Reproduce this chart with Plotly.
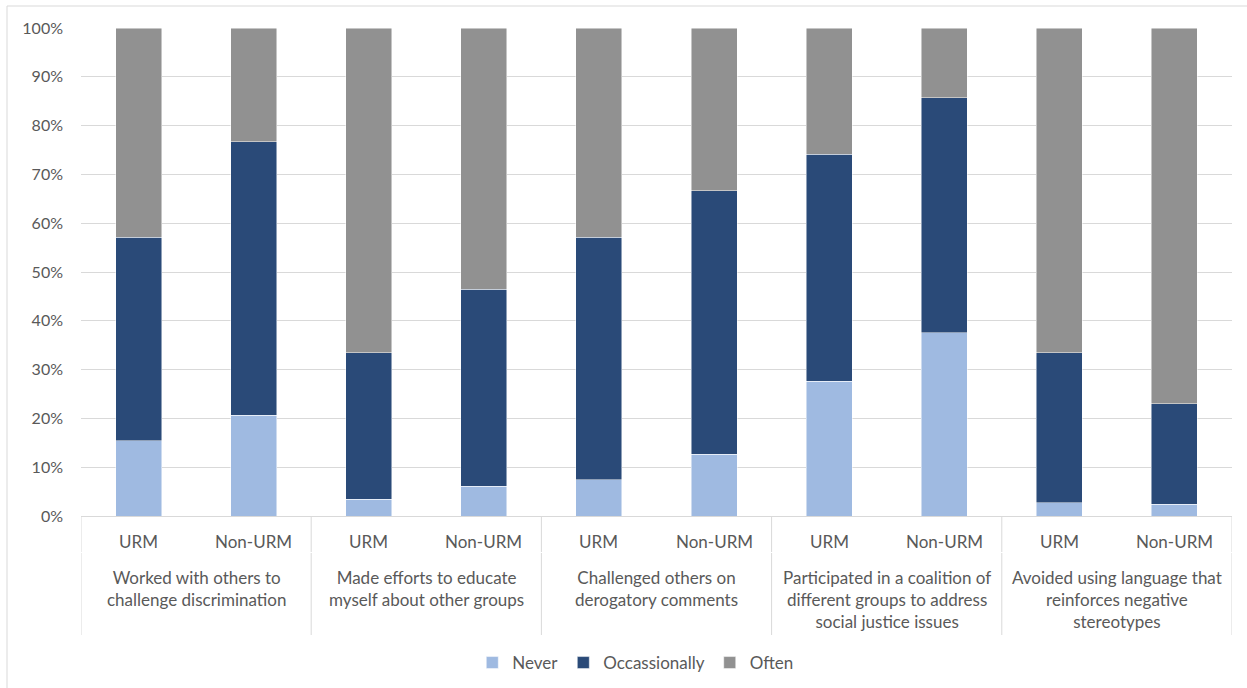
import plotly.graph_objects as go

groups = [
    "Worked with others to<br>challenge discrimination",
    "Made efforts to educate<br>myself about other groups",
    "Challenged others on<br>derogatory comments",
    "Participated in a coalition of<br>different groups to address<br>social justice issues",
    "Avoided using language that<br>reinforces negative<br>stereotypes",
]
subgroups = ["URM", "Non-URM"]

never = [15.4, 20.6, 3.4, 6.1, 7.4, 12.7, 27.6, 37.6, 2.7, 2.4]
occasionally = [41.7, 56.1, 30.1, 40.4, 49.7, 54.0, 46.5, 48.1, 30.8, 20.6]
often = [round(100 - a - b, 1) for a, b in zip(never, occasionally)]

series_names = ["Never", "Occassionally", "Often"]
series_colors = ["#9FBAE1", "#2A4A78", "#919191"]

# unique category keys: one per bar
cats = [f"{gi}|{s}" for gi in range(len(groups)) for s in subgroups]

FONT = "Lato"
TXT = "#595959"
GRID = "#D9D9D9"

PLOT_H = 488  # plot area height in px (for paper offsets)


def py(px_below):
    """paper y for a distance in px below the x axis"""
    return -px_below / PLOT_H


fig = go.Figure()
for name, vals, col in zip(series_names, [never, occasionally, often], series_colors):
    fig.add_trace(go.Bar(
        x=cats, y=vals, name=name,
        marker=dict(color=col, line=dict(color="rgba(255,255,255,0.6)", width=0.8)),
    ))

annotations = []
# sub-category labels
for i, c in enumerate(cats):
    annotations.append(dict(
        x=i, xref="x", y=py(25), yref="paper", yanchor="middle",
        text=c.split("|")[1], showarrow=False,
        font=dict(family=FONT, size=17, color=TXT)))
# group labels
n_sub = len(subgroups)
for gi, g in enumerate(groups):
    annotations.append(dict(
        x=gi * n_sub + (n_sub - 1) / 2, xref="x", y=py(49), yref="paper", yanchor="top",
        text=g, showarrow=False, align="center",
        font=dict(family=FONT, size=17, color=TXT)))

shapes = [dict(type="rect", xref="paper", yref="paper",
               x0=-74 / 1151, x1=1.02, y0=-1, y1=1 + 22 / PLOT_H,
               line=dict(color=GRID, width=1), layer="below")]
# group dividers
for gi in range(len(groups) + 1):
    xb = gi * n_sub - 0.5
    shapes.append(dict(type="line", xref="x", yref="paper", x0=xb, x1=xb,
                       y0=0, y1=py(36), line=dict(color=GRID, width=1)))
    shapes.append(dict(type="line", xref="x", yref="paper", x0=xb, x1=xb,
                       y0=py(37), y1=py(119), line=dict(color=GRID, width=1)))

fig.update_layout(
    barmode="stack",
    bargap=0.6,
    width=1247, height=688,
    margin=dict(l=81, r=15, t=28, b=172, autoexpand=False),
    plot_bgcolor="white", paper_bgcolor="white",
    font=dict(family=FONT, size=17, color=TXT),
    showlegend=True,
    legend=dict(orientation="h", x=0.482, xanchor="center", y=py(147), yanchor="middle",
                font=dict(family=FONT, size=17, color=TXT),
                traceorder="normal", itemwidth=30),
    yaxis=dict(range=[0, 100], tickvals=list(range(0, 101, 10)),
               ticktext=[f"{v}%" for v in range(0, 101, 10)],
               showgrid=True, gridcolor=GRID, gridwidth=1,
               zeroline=True, zerolinecolor=GRID, zerolinewidth=1,
               showline=False, ticks="", ticklabelstandoff=17,
               tickfont=dict(family=FONT, size=16, color=TXT)),
    xaxis=dict(type="category", range=[-0.5, len(cats) - 0.5],
               showticklabels=False, ticks="", showline=True, linecolor=GRID,
               showgrid=False),
    annotations=annotations,
    shapes=shapes,
)

fig.write_html("out.html")
